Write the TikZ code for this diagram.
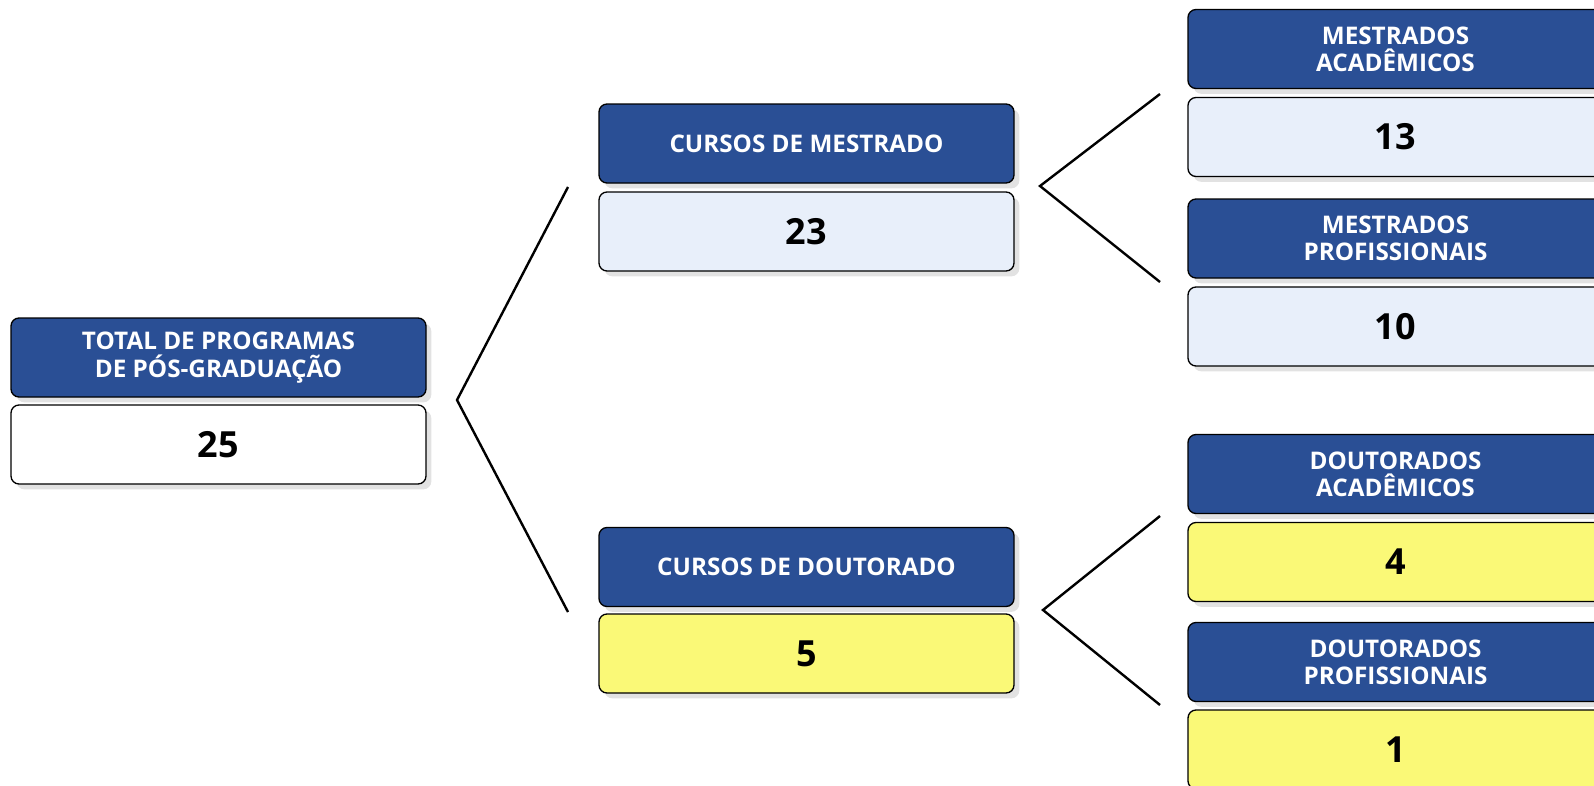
\documentclass[tikz,border=0pt]{standalone}
\usepackage{fontspec}
\setmainfont{Open Sans}
\usetikzlibrary{shadows}
\definecolor{hdblue}{RGB}{42,79,149}
\definecolor{valblue}{RGB}{232,239,250}
\definecolor{valyellow}{RGB}{250,249,119}
\definecolor{shadowgray}{RGB}{226,226,226}
\tikzset{
  box/.style={draw=black, line width=1pt, rounded corners=6pt, minimum width=311.25pt, minimum height=59.25pt, inner sep=0pt, align=center,
    drop shadow={shadow xshift=4pt, shadow yshift=-4pt, fill=shadowgray, opacity=1}},
  head/.style={box, fill=hdblue, text=white, font=\fontsize{18.2}{20.5}\selectfont\bfseries},
  val/.style={box, fill=#1, font=\fontsize{27}{30}\selectfont\bfseries},
  val/.default=white,
  branch/.style={line width=1.8pt, black}
}
\begin{document}
\begin{tikzpicture}[x=0.75pt,y=0.75pt,yscale=-1,xscale=1]
\useasboundingbox (0,0) rectangle (1594,785);

%Shape: Rounded Rect [total]
\node[head] (total) at (218.5,357.5) {TOTAL DE PROGRAMAS\\DE PÓS-GRADUAÇÃO};
\node[val] (totalv) at (218.5,444.5) {25};

%Shape: Rounded Rect [mestrado]
\node[head] (mest) at (806.5,143.5) {CURSOS DE MESTRADO};
\node[val=valblue] (mestv) at (806.5,231.5) {23};
%Shape: Rounded Rect [doutorado]
\node[head] (dout) at (806.5,567) {CURSOS DE DOUTORADO};
\node[val=valyellow] (doutv) at (806.5,653.5) {5};

%Shape: Rounded Rect [mestrados]
\node[head] (mac) at (1395.5,49) {MESTRADOS\\ACADÊMICOS};
\node[val=valblue] (macv) at (1395.5,137) {13};
\node[head] (mpr) at (1395.5,238.5) {MESTRADOS\\PROFISSIONAIS};
\node[val=valblue] (mprv) at (1395.5,326.5) {10};

%Shape: Rounded Rect [doutorados]
\node[head] (dac) at (1395.5,474) {DOUTORADOS\\ACADÊMICOS};
\node[val=valyellow] (dacv) at (1395.5,562) {4};
\node[head] (dpr) at (1395.5,662) {DOUTORADOS\\PROFISSIONAIS};
\node[val=valyellow] (dprv) at (1395.5,749.5) {1};

%Straight Lines
\coordinate (tip1) at (457,400);
\coordinate (up1) at (568,187);
\coordinate (dn1) at (568,612);
\draw[branch] (up1) -- (tip1) -- (dn1);
\coordinate (tip2) at (1040,186);
\coordinate (up2) at (1160,94);
\coordinate (dn2) at (1160,282);
\draw[branch] (up2) -- (tip2) -- (dn2);
\coordinate (tip3) at (1043,610);
\coordinate (up3) at (1160,516);
\coordinate (dn3) at (1160,705);
\draw[branch] (up3) -- (tip3) -- (dn3);
\end{tikzpicture}
\end{document}
